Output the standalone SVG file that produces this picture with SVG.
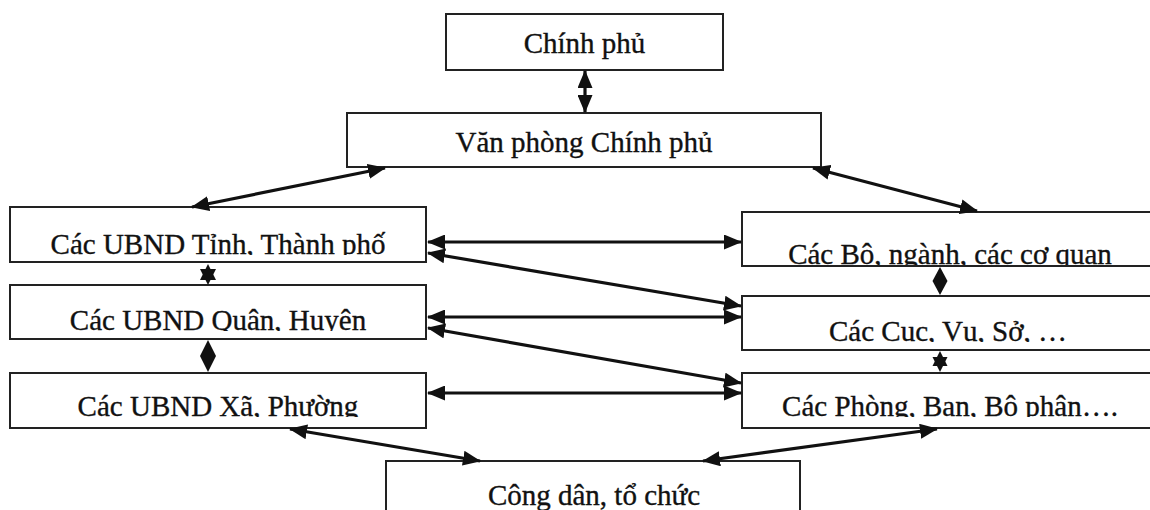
<svg xmlns="http://www.w3.org/2000/svg" width="1150" height="510" viewBox="0 0 1150 510">
  <style>
    .box { fill: #ffffff; stroke: #222222; stroke-width: 2; }
    .lbl { font-family: "Liberation Serif", "Times New Roman", serif; font-size: 29px; fill: #111111; stroke: #111111; stroke-width: 0.35; text-anchor: middle; }
    .conn { stroke: #111111; stroke-width: 3.2; fill: none; marker-start: url(#head); marker-end: url(#head); }
    .sym { fill: #111111; stroke: none; }
  </style>
  <defs>
    <marker id="head" markerUnits="userSpaceOnUse" markerWidth="18" markerHeight="15" viewBox="0 0 18 15" refX="17" refY="7.5" orient="auto-start-reverse">
      <path d="M0,0 L18,7.5 L0,15 z" fill="#111111"/>
    </marker>
    <clipPath id="cTinh"><rect x="10" y="207" width="416" height="48"/></clipPath>
    <clipPath id="cQuan"><rect x="10" y="285" width="416" height="46"/></clipPath>
    <clipPath id="cXa"><rect x="10" y="373" width="416" height="44"/></clipPath>
    <clipPath id="cBo"><rect x="742" y="212" width="420" height="53"/></clipPath>
    <clipPath id="cCuc"><rect x="742" y="296" width="420" height="46"/></clipPath>
    <clipPath id="cPhong"><rect x="742" y="373" width="420" height="44"/></clipPath>
  </defs>
  <rect width="1150" height="510" fill="#ffffff"/>

  <g id="chinh-phu">
    <rect class="box" x="446" y="14" width="277" height="56"/>
    <text class="lbl" x="584.5" y="53">Chính phủ</text>
  </g>
  <g id="van-phong">
    <rect class="box" x="347" y="113" width="474" height="54"/>
    <text class="lbl" x="584" y="152">Văn phòng Chính phủ</text>
  </g>
  <g id="ubnd-tinh">
    <rect class="box" x="10" y="207" width="416" height="55"/>
    <text class="lbl" x="218" y="254" clip-path="url(#cTinh)">Các UBND Tỉnh, Thành phố</text>
  </g>
  <g id="ubnd-quan">
    <rect class="box" x="10" y="285" width="416" height="54"/>
    <text class="lbl" x="218" y="330" clip-path="url(#cQuan)">Các UBND Quận, Huyện</text>
  </g>
  <g id="ubnd-xa">
    <rect class="box" x="10" y="373" width="416" height="55"/>
    <text class="lbl" x="218" y="416" clip-path="url(#cXa)">Các UBND Xã, Phường</text>
  </g>
  <g id="bo-nganh">
    <rect class="box" x="742" y="212" width="420" height="54"/>
    <text class="lbl" x="950" y="264" clip-path="url(#cBo)">Các Bộ, ngành, các cơ quan</text>
  </g>
  <g id="cuc-vu-so">
    <rect class="box" x="742" y="296" width="420" height="54"/>
    <text class="lbl" x="948" y="341" clip-path="url(#cCuc)">Các Cục, Vụ, Sở, …</text>
  </g>
  <g id="phong-ban">
    <rect class="box" x="742" y="373" width="420" height="55"/>
    <text class="lbl" x="950" y="416" clip-path="url(#cPhong)">Các Phòng, Ban, Bộ phận….</text>
  </g>
  <g id="cong-dan">
    <rect class="box" x="386" y="461" width="414" height="60"/>
    <text class="lbl" x="594" y="505">Công dân, tổ chức</text>
  </g>

  <g id="connectors">
    <line class="conn" x1="585" y1="71" x2="585" y2="112"/>
    <line class="conn" x1="385" y1="168" x2="192" y2="207"/>
    <line class="conn" x1="813" y1="168" x2="977" y2="211"/>
    <line class="conn" x1="428" y1="242" x2="741" y2="242"/>
    <line class="conn" x1="428" y1="253" x2="741" y2="306"/>
    <line class="conn" x1="428" y1="317" x2="741" y2="317"/>
    <line class="conn" x1="428" y1="328" x2="741" y2="383"/>
    <line class="conn" x1="428" y1="393" x2="741" y2="393"/>
    <line class="conn" x1="290" y1="429" x2="480" y2="461"/>
    <line class="conn" x1="937" y1="429" x2="703" y2="461"/>
    <!-- short double arrows collapsed into star / diamond shapes -->
    <polygon class="sym" points="208,264 200,280 216,280"/>
    <polygon class="sym" points="208,285 200,269 216,269"/>
    <polygon class="sym" points="208,340 216,356 208,372 200,356"/>
    <polygon class="sym" points="940,267 947.5,281 940,295 932.5,281"/>
    <polygon class="sym" points="940,351 932.5,366 947.5,366"/>
    <polygon class="sym" points="940,372 932.5,357 947.5,357"/>
  </g>
</svg>
